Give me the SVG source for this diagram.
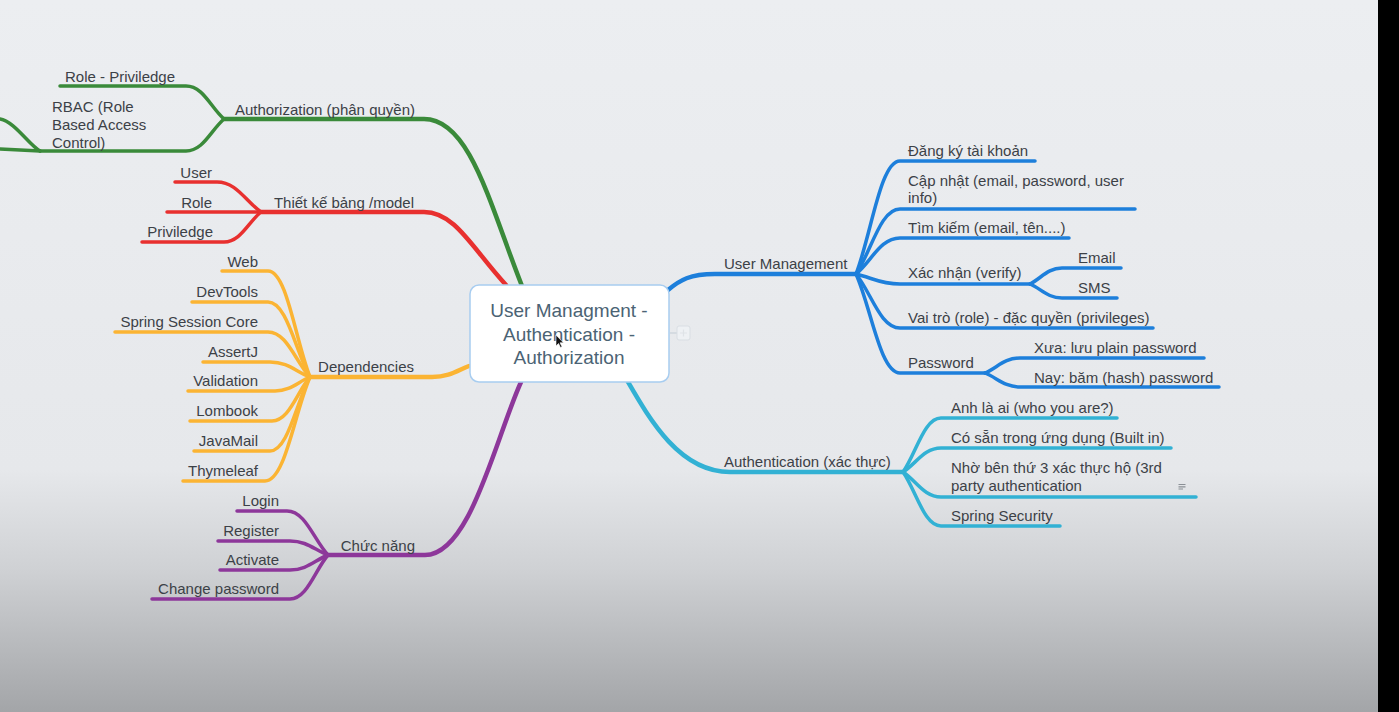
<svg xmlns="http://www.w3.org/2000/svg" width="1399" height="712" viewBox="0 0 1399 712">
<defs>
<linearGradient id="bg" x1="0" y1="0" x2="0" y2="1">
<stop offset="0" stop-color="#eceef1"/>
<stop offset="0.66" stop-color="#e6e8eb"/>
<stop offset="0.8" stop-color="#cfd1d4"/>
<stop offset="1" stop-color="#a3a5a8"/>
</linearGradient>
<style>
.ln{fill:none;stroke-linecap:round;stroke-linejoin:round}
.m{stroke-width:4.5}
.s{stroke-width:3.5}
.g{stroke:#3a8a3a}
.r{stroke:#e8302f}
.o{stroke:#fbb433}
.p{stroke:#8d379a}
.b{stroke:#1d7fdb}
.c{stroke:#32b1d4}
text{font-family:"Liberation Sans",Arial,sans-serif;font-size:15px;fill:#3c4147}
.e{text-anchor:end}
.title{font-size:19px;fill:#4b6374;text-anchor:middle}
</style>
</defs>
<rect x="0" y="0" width="1399" height="712" fill="url(#bg)"/>
<rect x="1378" y="0" width="21" height="712" fill="#000"/>

<g id="connectors">
<!-- green -->
<path class="ln m g" d="M 522 286 C 490 205 470 119 424 119 L 224 119"/>
<path class="ln s g" d="M 224 119 C 210.7 107.5 203.1 86 186 86 L 60 86"/>
<path class="ln s g" d="M 224 119 C 210.7 130.5 203.1 151 186 151 L 40 151"/>
<path class="ln s g" d="M 40 151 C 30 146 14 121 0 119"/>
<path class="ln s g" d="M 40 151 L 0 149"/>
<!-- red -->
<path class="ln m r" d="M 506 285 C 472 248 455 212 424 212 L 261 212"/>
<path class="ln s r" d="M 261 212 C 245.6 201.5 236.8 182 217 182 L 175 182"/>
<path class="ln s r" d="M 261 212 L 167 212"/>
<path class="ln s r" d="M 261 212 C 248 222.5 240.6 242 224 242 L 142 242"/>
<!-- orange -->
<path class="ln m o" d="M 469 366 C 458 370 450 377 432 377 L 310 377"/>
<path class="ln s o" d="M 310 377 C 295.3 339.9 286.9 271 268 271 L 222 271"/>
<path class="ln s o" d="M 310 377 C 295.3 350.75 286.9 302 268 302 L 192 302"/>
<path class="ln s o" d="M 310 377 C 295.3 361.25 286.9 332 268 332 L 115 332"/>
<path class="ln s o" d="M 310 377 C 296 371.75 288 362 270 362 L 203 362"/>
<path class="ln s o" d="M 310 377 C 297.75 381.9 290.75 391 275 391 L 188 391"/>
<path class="ln s o" d="M 310 377 C 296.7 392.4 289.1 421 272 421 L 190 421"/>
<path class="ln s o" d="M 310 377 C 296 402.9 288 451 270 451 L 194 451"/>
<path class="ln s o" d="M 310 377 C 294.25 413.4 285.25 481 265 481 L 183 481"/>
<!-- purple -->
<path class="ln m p" d="M 521 382 C 495 440 470 555 425 555 L 328 555"/>
<path class="ln s p" d="M 328 555 C 313.65 539.6 305.45 511 287 511 L 237 511"/>
<path class="ln s p" d="M 328 555 C 314.7 550.1 307.1 541 290 541 L 218 541"/>
<path class="ln s p" d="M 328 555 C 314.7 560.25 307.1 570 290 570 L 220 570"/>
<path class="ln s p" d="M 328 555 C 314.7 570.4 307.1 599 290 599 L 152 599"/>
<!-- blue -->
<path class="ln m b" d="M 668 290 C 680 280 690 274 715 274 L 856 274"/>
<path class="ln s b" d="M 856 274 C 871.4 234.45 880.2 161 900 161 L 1035 161"/>
<path class="ln s b" d="M 856 274 C 871.4 251.25 880.2 209 900 209 L 1135 209"/>
<path class="ln s b" d="M 856 274 C 871.4 261.4 880.2 238 900 238 L 1069 238"/>
<path class="ln s b" d="M 856 274 C 871.4 277.5 880.2 284 900 284 L 1030 284"/>
<path class="ln s b" d="M 856 274 C 871.4 292.9 880.2 328 900 328 L 1153 328"/>
<path class="ln s b" d="M 856 274 C 871.4 308.65 880.2 373 900 373 L 985 373"/>
<path class="ln s b" d="M 1030 284 C 1041.2 278.4 1047.6 268 1062 268 L 1121 268"/>
<path class="ln s b" d="M 1030 284 C 1041.2 288.9 1047.6 298 1062 298 L 1117 298"/>
<path class="ln s b" d="M 985 373 C 997.25 367.75 1004.25 358 1020 358 L 1204 358"/>
<path class="ln s b" d="M 985 373 C 997.25 377.9 1004.25 387 1020 387 L 1219 387"/>
<!-- cyan -->
<path class="ln m c" d="M 628 382 C 650 420 680 472 730 472 L 903 472"/>
<path class="ln s c" d="M 903 472 C 916.3 453.1 923.9 418 941 418 L 1117 418"/>
<path class="ln s c" d="M 903 472 C 916.3 463.6 923.9 448 941 448 L 1171 448"/>
<path class="ln s c" d="M 903 472 C 916.3 480.75 923.9 497 941 497 L 1196 497"/>
<path class="ln s c" d="M 903 472 C 916.3 490.9 923.9 526 941 526 L 1060 526"/>
<!-- collapse stub -->
<path d="M 670 333 L 677 333" stroke="#d5dbe1" stroke-width="2" fill="none"/>
</g>

<g id="root">
<rect x="470" y="285" width="199" height="97" rx="9" fill="#ffffff" stroke="#a8cdf0" stroke-width="1.5"/>
<text class="title" x="569" y="317">User Managment -</text>
<text class="title" x="569" y="341">Authentication -</text>
<text class="title" x="569" y="364">Authorization</text>
</g>
<g id="collapse-button">
<rect x="677" y="326" width="13" height="14" rx="2" fill="#eef1f4" stroke="#d9dee3" stroke-width="1"/>
<path d="M 680 333 H 687 M 683.5 329.5 V 336.5" stroke="#dfe3e7" stroke-width="1.2"/>
</g>
<g id="cursor">
<path d="M 556 335 L 556 346 L 558.5 343.5 L 560.5 347.5 L 562 346.8 L 560 342.8 L 563.5 342.8 Z" fill="#111" stroke="#fff" stroke-width="0.6"/>
</g>

<g id="authorization">
<text class="e" x="415" y="115">Authorization (phân quyền)</text>
<g id="role-priviledge"><text class="e" x="175" y="82">Role - Priviledge</text></g>
<g id="rbac"><text x="52" y="112">RBAC (Role</text><text x="52" y="130">Based Access</text><text x="52" y="148">Control)</text></g>
</g>

<g id="model">
<text class="e" x="414" y="208">Thiết kế bảng /model</text>
<g id="m-user"><text class="e" x="212" y="178">User</text></g>
<g id="m-role"><text class="e" x="212" y="208">Role</text></g>
<g id="m-priv"><text class="e" x="213" y="237">Priviledge</text></g>
</g>

<g id="dependencies">
<text class="e" x="414" y="372">Dependencies</text>
<g id="d-web"><text class="e" x="258" y="267">Web</text></g>
<g id="d-devtools"><text class="e" x="258" y="297">DevTools</text></g>
<g id="d-session"><text class="e" x="258" y="327">Spring Session Core</text></g>
<g id="d-assertj"><text class="e" x="258" y="357">AssertJ</text></g>
<g id="d-validation"><text class="e" x="258" y="386">Validation</text></g>
<g id="d-lombook"><text class="e" x="258" y="416">Lombook</text></g>
<g id="d-javamail"><text class="e" x="258" y="446">JavaMail</text></g>
<g id="d-thymeleaf"><text class="e" x="258" y="476">Thymeleaf</text></g>
</g>

<g id="functions">
<text class="e" x="415" y="551">Chức năng</text>
<g id="f-login"><text class="e" x="279" y="506">Login</text></g>
<g id="f-register"><text class="e" x="279" y="536">Register</text></g>
<g id="f-activate"><text class="e" x="279" y="565">Activate</text></g>
<g id="f-change"><text class="e" x="279" y="594">Change password</text></g>
</g>

<g id="user-management">
<text x="724" y="269">User Management</text>
<g id="u-register"><text x="908" y="156">Đăng ký tài khoản</text></g>
<g id="u-update"><text x="908" y="186">Cập nhật (email, password, user</text><text x="908" y="203">info)</text></g>
<g id="u-search"><text x="908" y="233">Tìm kiếm (email, tên....)</text></g>
<g id="u-verify"><text x="908" y="278">Xác nhận (verify)</text>
<g id="v-email"><text x="1078" y="263">Email</text></g>
<g id="v-sms"><text x="1078" y="293">SMS</text></g>
</g>
<g id="u-role"><text x="908" y="323">Vai trò (role) - đặc quyền (privileges)</text></g>
<g id="u-password"><text x="908" y="368">Password</text>
<g id="p-old"><text x="1034" y="353">Xưa: lưu plain password</text></g>
<g id="p-new"><text x="1034" y="383">Nay: băm (hash) password</text></g>
</g>
</g>

<g id="authentication">
<text x="724" y="467">Authentication (xác thực)</text>
<g id="a-who"><text x="951" y="413">Anh là ai (who you are?)</text></g>
<g id="a-builtin"><text x="951" y="443">Có sẵn trong ứng dụng (Built in)</text></g>
<g id="a-third"><text x="951" y="473">Nhờ bên thứ 3 xác thực hộ (3rd</text><text x="951" y="491">party authentication</text>
<path d="M 1178.5 484.5 H 1185.5 M 1178.5 486.8 H 1185.5 M 1178.5 489 H 1183" stroke="#8a8f95" stroke-width="1.2" fill="none"/>
</g>
<g id="a-spring"><text x="951" y="521">Spring Security</text></g>
</g>
</svg>
